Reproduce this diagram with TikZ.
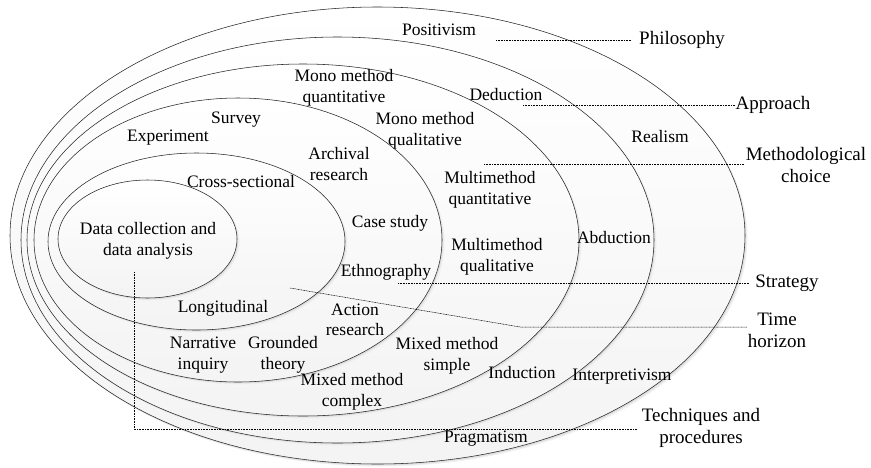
\documentclass[tikz,border=0pt]{standalone}
\usepackage{fontspec}
\setmainfont{Liberation Serif}
\begin{document}
\begin{tikzpicture}[x=1pt,y=-1pt,
  ring/.style={draw=black!85,line width=0.55pt,top color=white,bottom color=gray!9},
  lab/.style={align=center,inner sep=1pt,font=\fontsize{17.5}{20.5}\selectfont},
  layer/.style={align=center,inner sep=1pt,font=\fontsize{19}{22}\selectfont},
  guide/.style={line width=0.5pt,dash pattern=on 1pt off 0.6pt}]
\useasboundingbox (0,0) rectangle (871,467);
% rings (outer to inner): centre, x radius, y radius
\foreach \cx/\cy/\rx/\ry in {377.5/235.5/367.5/228.5, 337.5/240/316.5/203, 303/240/276/176, 238/240/204/142, 196.5/241.5/148.5/88.5, 147.5/239/89.5/59}{
  \fill[gray!12] (\cx+2.5,\cy+2.5) ellipse [x radius=\rx pt, y radius=\ry pt];
  \fill[gray!26] (\cx+1.2,\cy+1.4) ellipse [x radius=\rx pt, y radius=\ry pt];
  \path[ring] (\cx,\cy) ellipse [x radius=\rx pt, y radius=\ry pt];
}
% ring labels
\node[lab] (pos) at (439,30) {Positivism};
\node[lab] (mmqn) at (344,88) {Mono method\\quantitative};
\node[lab] (ded) at (506,95) {Deduction};
\node[lab] (mmql) at (425,131) {Mono method\\qualitative};
\node[lab] (real) at (660,137) {Realism};
\node[lab] (surv) at (236,120) {Survey};
\node[lab] (expt) at (168,138) {Experiment};
\node[lab] (arch) at (339,164) {Archival\\research};
\node[lab] (cross) at (241,182) {Cross-sectional};
\node[lab] (mtqn) at (490,190) {Multimethod\\quantitative};
\node[lab] (case) at (390,223) {Case study};
\node[lab] (core) at (148,241) {Data collection and\\data analysis};
\node[lab] (abd) at (614,238) {Abduction};
\node[lab] (mtql) at (497,257) {Multimethod\\qualitative};
\node[lab] (eth) at (386,272) {Ethnography};
\node[lab] (long) at (223,308) {Longitudinal};
\node[lab] (act) at (355,320) {Action\\research};
\node[lab] (narr) at (203,355) {Narrative\\inquiry};
\node[lab] (grnd) at (283,355) {Grounded\\theory};
\node[lab] (mms) at (447,356) {Mixed method\\simple};
\node[lab] (ind) at (522,373) {Induction};
\node[lab] (interp) at (622,377) {Interpretivism};
\node[lab] (mmc) at (352,392) {Mixed method\\complex};
\node[lab] (prag) at (486,439) {Pragmatism};
% layer names
\node[layer] (phil) at (682,40) {Philosophy};
\node[layer] (appr) at (773,105) {Approach};
\node[layer] (meth) at (806,165) {Methodological\\choice};
\node[layer] (strat) at (787,283) {Strategy};
\node[layer] (time) at (777,330) {Time\\horizon};
\node[layer] (tech) at (701,428) {Techniques and\\procedures};
% guide line anchors
\coordinate (gphil) at (496,40);
\coordinate (gappr) at (523,105);
\coordinate (gmeth) at (484,164);
\coordinate (gstrat) at (398,283);
\coordinate (gtime) at (290,288);
\coordinate (ktime) at (520,327);
\coordinate (gtech) at (134,272);
\coordinate (ktech) at (134,429);
\draw[guide,shorten >=7pt] (gphil) -- (phil.west |- gphil);
\draw[guide] (gappr) -- (appr.west |- gappr);
\draw[guide] (gmeth) -- (meth.west |- gmeth);
\draw[guide,shorten >=5pt] (gstrat) -- (strat.west |- gstrat);
\draw[guide] (gtime) -- (ktime) -- (time.west |- ktime);
\draw[guide,shorten >=4pt] (gtech) -- (ktech) -- (tech.west |- ktech);
\end{tikzpicture}
\end{document}
